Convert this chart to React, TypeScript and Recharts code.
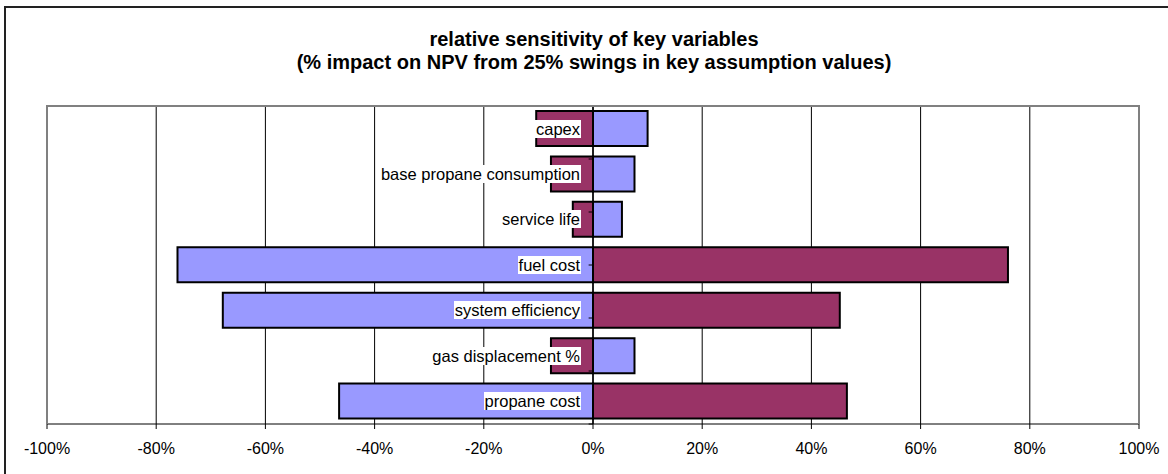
import React from 'react';
import {
  BarChart,
  Bar,
  XAxis,
  YAxis,
  CartesianGrid,
  ReferenceLine,
  LabelList,
} from 'recharts';

const categories = [
  'capex',
  'base propane consumption',
  'service life',
  'fuel cost',
  'system efficiency',
  'gas displacement %',
  'propane cost',
];
const maroonValues = [-10.4, -7.7, -3.7, 76.0, 45.2, -7.7, 46.5];
const blueValues = [10.0, 7.6, 5.3, -76.1, -67.8, 7.6, -46.5];
const xTicks = [-100, -80, -60, -40, -20, 0, 20, 40, 60, 80, 100];
const titleLines = [
  'relative sensitivity of key variables',
  '(% impact on NPV from 25% swings in key assumption values)',
];

const FONT = '"Liberation Sans", Arial, Helvetica, sans-serif';
const BLUE = '#9999FF';
const MAROON = '#993366';

const CHART_W = 1168;
const CHART_H = 474;
const MARGIN = { top: 106, right: 29, bottom: 10, left: 47 };
const XAXIS_H = 40;

const data = categories.map((name, i) => ({
  name,
  maroon: maroonValues[i],
  blue: blueValues[i],
}));
const boundaries = categories.map((_, i) => i).concat(categories.length);

const CategoryLabel = (props: any) => {
  const { x, y, width, height, index } = props;
  const v = blueValues[index];
  const x0 = Number(x);
  const x1 = Number(x) + Number(width);
  const zero = v >= 0 ? Math.min(x0, x1) : Math.max(x0, x1);
  const cy = Number(y) + Number(height) / 2;
  return (
    <foreignObject x={zero - 12 - 400} y={cy - 10} width={400} height={20}>
      <div
        style={{
          textAlign: 'right',
          lineHeight: '20px',
          fontSize: 16.5,
          fontFamily: FONT,
          color: '#000',
          whiteSpace: 'nowrap',
        }}
      >
        <span style={{ background: '#fff', padding: '0 1px' }}>{categories[index]}</span>
      </div>
    </foreignObject>
  );
};

export default function App() {
  return (
    <div
      style={{
        position: 'absolute',
        left: 0,
        top: 0,
        width: CHART_W,
        height: CHART_H,
        overflow: 'hidden',
        background: '#fff',
        fontFamily: FONT,
      }}
    >
      <div
        style={{
          position: 'absolute',
          left: 4,
          top: 6,
          width: 1300,
          height: 600,
          border: '2px solid #222',
          boxSizing: 'border-box',
        }}
      />
      {titleLines.map((t, i) => (
        <div
          key={i}
          style={{
            position: 'absolute',
            left: 0,
            width: 1188,
            top: 28 + i * 23,
            textAlign: 'center',
            fontWeight: 'bold',
            fontSize: 20,
            lineHeight: '23px',
            color: '#000',
          }}
        >
          {t}
        </div>
      ))}
      <div style={{ position: 'absolute', left: 0, top: 0 }}>
        <BarChart
          width={CHART_W}
          height={CHART_H}
          data={data}
          layout="vertical"
          stackOffset="sign"
          margin={MARGIN}
          barSize={35}
        >
          <CartesianGrid vertical horizontal={false} stroke="#000" strokeWidth={1} />
          <XAxis
            type="number"
            domain={[-100, 100]}
            ticks={xTicks}
            allowDataOverflow
            tickFormatter={(v: number) => `${v}%`}
            axisLine={{ stroke: '#000', strokeWidth: 1 }}
            tickLine={{ stroke: '#000' }}
            tickSize={5}
            tickMargin={14}
            height={XAXIS_H}
            tick={{ fill: '#000', fontSize: 16, fontFamily: FONT }}
            interval={0}
          />
          <YAxis type="category" dataKey="name" hide />
          <YAxis yAxisId="edge" type="number" domain={[0, categories.length]} hide reversed />
          <Bar
            dataKey="maroon"
            stackId="a"
            fill={MAROON}
            stroke="#000"
            strokeWidth={2}
            isAnimationActive={false}
          />
          <Bar
            dataKey="blue"
            stackId="a"
            fill={BLUE}
            stroke="#000"
            strokeWidth={2}
            isAnimationActive={false}
          >
            <LabelList dataKey="blue" content={CategoryLabel} />
          </Bar>
          <ReferenceLine x={0} stroke="#000" strokeWidth={1.5} />
          {boundaries.map((b) => (
            <ReferenceLine
              key={b}
              yAxisId="edge"
              segment={[
                { x: -0.8, y: b },
                { x: 0, y: b },
              ]}
              stroke="#000"
              strokeWidth={1}
            />
          ))}
        </BarChart>
      </div>
      {/* plot-area frame (top, left, right edges) */}
      <div
        style={{
          position: 'absolute',
          left: MARGIN.left - 1,
          top: MARGIN.top - 1,
          width: CHART_W - MARGIN.left - MARGIN.right + 2,
          height: CHART_H - MARGIN.top - MARGIN.bottom - XAXIS_H + 1,
          boxSizing: 'border-box',
          borderTop: '2px solid #808080',
          borderLeft: '2px solid #808080',
          borderRight: '2px solid #808080',
          pointerEvents: 'none',
        }}
      />
    </div>
  );
}
